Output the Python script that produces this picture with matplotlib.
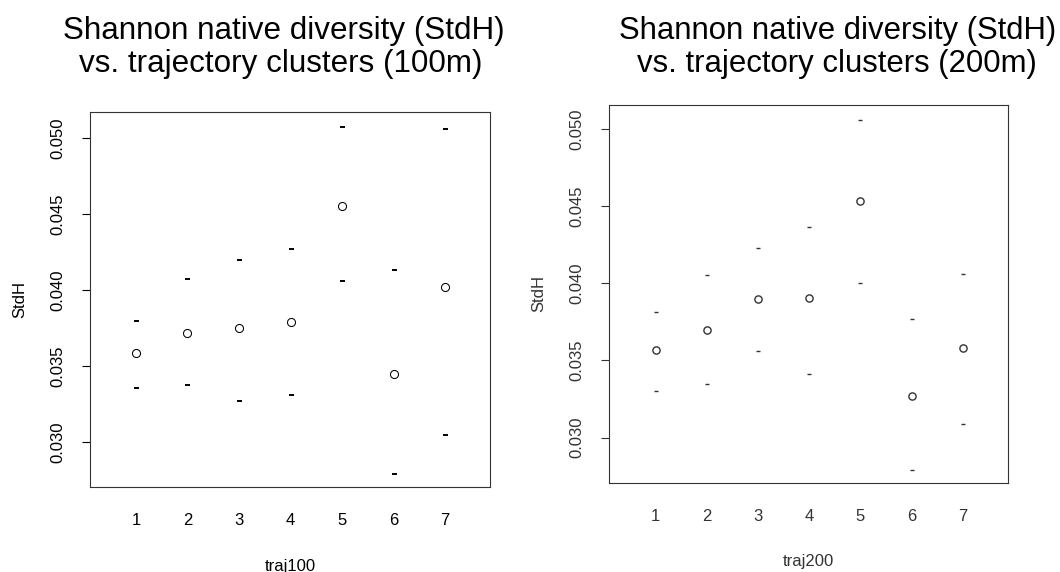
import matplotlib
matplotlib.use('Agg')
import matplotlib.pyplot as plt
from matplotlib.ticker import FormatStrFormatter

plt.rcParams['font.family'] = ['Liberation Sans', 'DejaVu Sans']

clusters = [1, 2, 3, 4, 5, 6, 7]
yticks = [0.030, 0.035, 0.040, 0.045, 0.050]

# 100m trajectories: mean and interval ends
mean100 = [0.03587, 0.03718, 0.03753, 0.03790, 0.04555, 0.03451, 0.04022]
upper100 = [0.03800, 0.04074, 0.04199, 0.04271, 0.05072, 0.04133, 0.05058]
lower100 = [0.03359, 0.03374, 0.03274, 0.03308, 0.04057, 0.02795, 0.03046]

# 200m trajectories
mean200 = [0.03568, 0.03700, 0.03900, 0.03905, 0.04531, 0.03272, 0.03583]
upper200 = [0.03816, 0.04056, 0.04226, 0.04364, 0.05055, 0.03767, 0.04058]
lower200 = [0.03303, 0.03350, 0.03564, 0.03411, 0.04000, 0.02791, 0.03091]

W, H = 1060, 572
fig = plt.figure(figsize=(W / 100, H / 100), dpi=100, facecolor='w')


def px_axes(x0, y0, x1, y1):
    return fig.add_axes([x0 / W, 1 - y1 / H, (x1 - x0) / W, (y1 - y0) / H])


def panel(ax, means, upp, low, xlab, col, ylim, xlim, ms, dash_ms, dash_mew, circ_mew, xpad):
    ax.plot(clusters, means, 'o', mfc='none', mec=col, ms=ms, mew=circ_mew)
    ax.plot(clusters, upp, '_', color=col, ms=dash_ms, mew=dash_mew)
    ax.plot(clusters, low, '_', color=col, ms=dash_ms, mew=dash_mew)
    ax.set_xlim(*xlim)
    ax.set_ylim(*ylim)
    ax.set_xticks(clusters)
    ax.set_xticklabels([str(c) for c in clusters])
    ax.set_yticks(yticks)
    ax.yaxis.set_major_formatter(FormatStrFormatter('%.3f'))
    ax.tick_params(axis='x', length=0, pad=xpad, labelsize=12, labelcolor=col)
    ax.tick_params(axis='y', length=6, width=0.8, pad=12, labelsize=12,
                   labelrotation=90, labelcolor=col, color=col)
    for lbl in ax.get_yticklabels():
        lbl.set_va('center')
    for s in ax.spines.values():
        s.set_color('#333333')
        s.set_linewidth(0.8)
    ax.set_xlabel(xlab, fontsize=12, labelpad=22, color=col)
    ax.set_ylabel('StdH', fontsize=12, labelpad=16, color=col)


ax1 = px_axes(90, 112, 490, 487)
panel(ax1, mean100, upper100, lower100, 'traj100', 'black',
      (0.02707, 0.0517), (0.11, 7.87), 5.8, 3.6, 1.4, 0.75, 19)

ax2 = px_axes(609, 105, 1008, 483)
panel(ax2, mean200, upper200, lower200, 'traj200', '#333333',
      (0.02706, 0.05154), (0.09, 7.88), 5.2, 3.0, 1.0, 1.0, 18.5)

fig.text(284 / W, 1 - 39 / H, 'Shannon native diversity (StdH)', ha='center',
         va='baseline', fontsize=22.6)
fig.text(281 / W, 1 - 72 / H, 'vs. trajectory clusters (100m)', ha='center',
         va='baseline', fontsize=22.6)
fig.text(838 / W, 1 - 39 / H, 'Shannon native diversity (StdH)', ha='center',
         va='baseline', fontsize=22.4)
fig.text(837 / W, 1 - 72 / H, 'vs. trajectory clusters (200m)', ha='center',
         va='baseline', fontsize=22.4)

fig.savefig('out.png', dpi=100)
